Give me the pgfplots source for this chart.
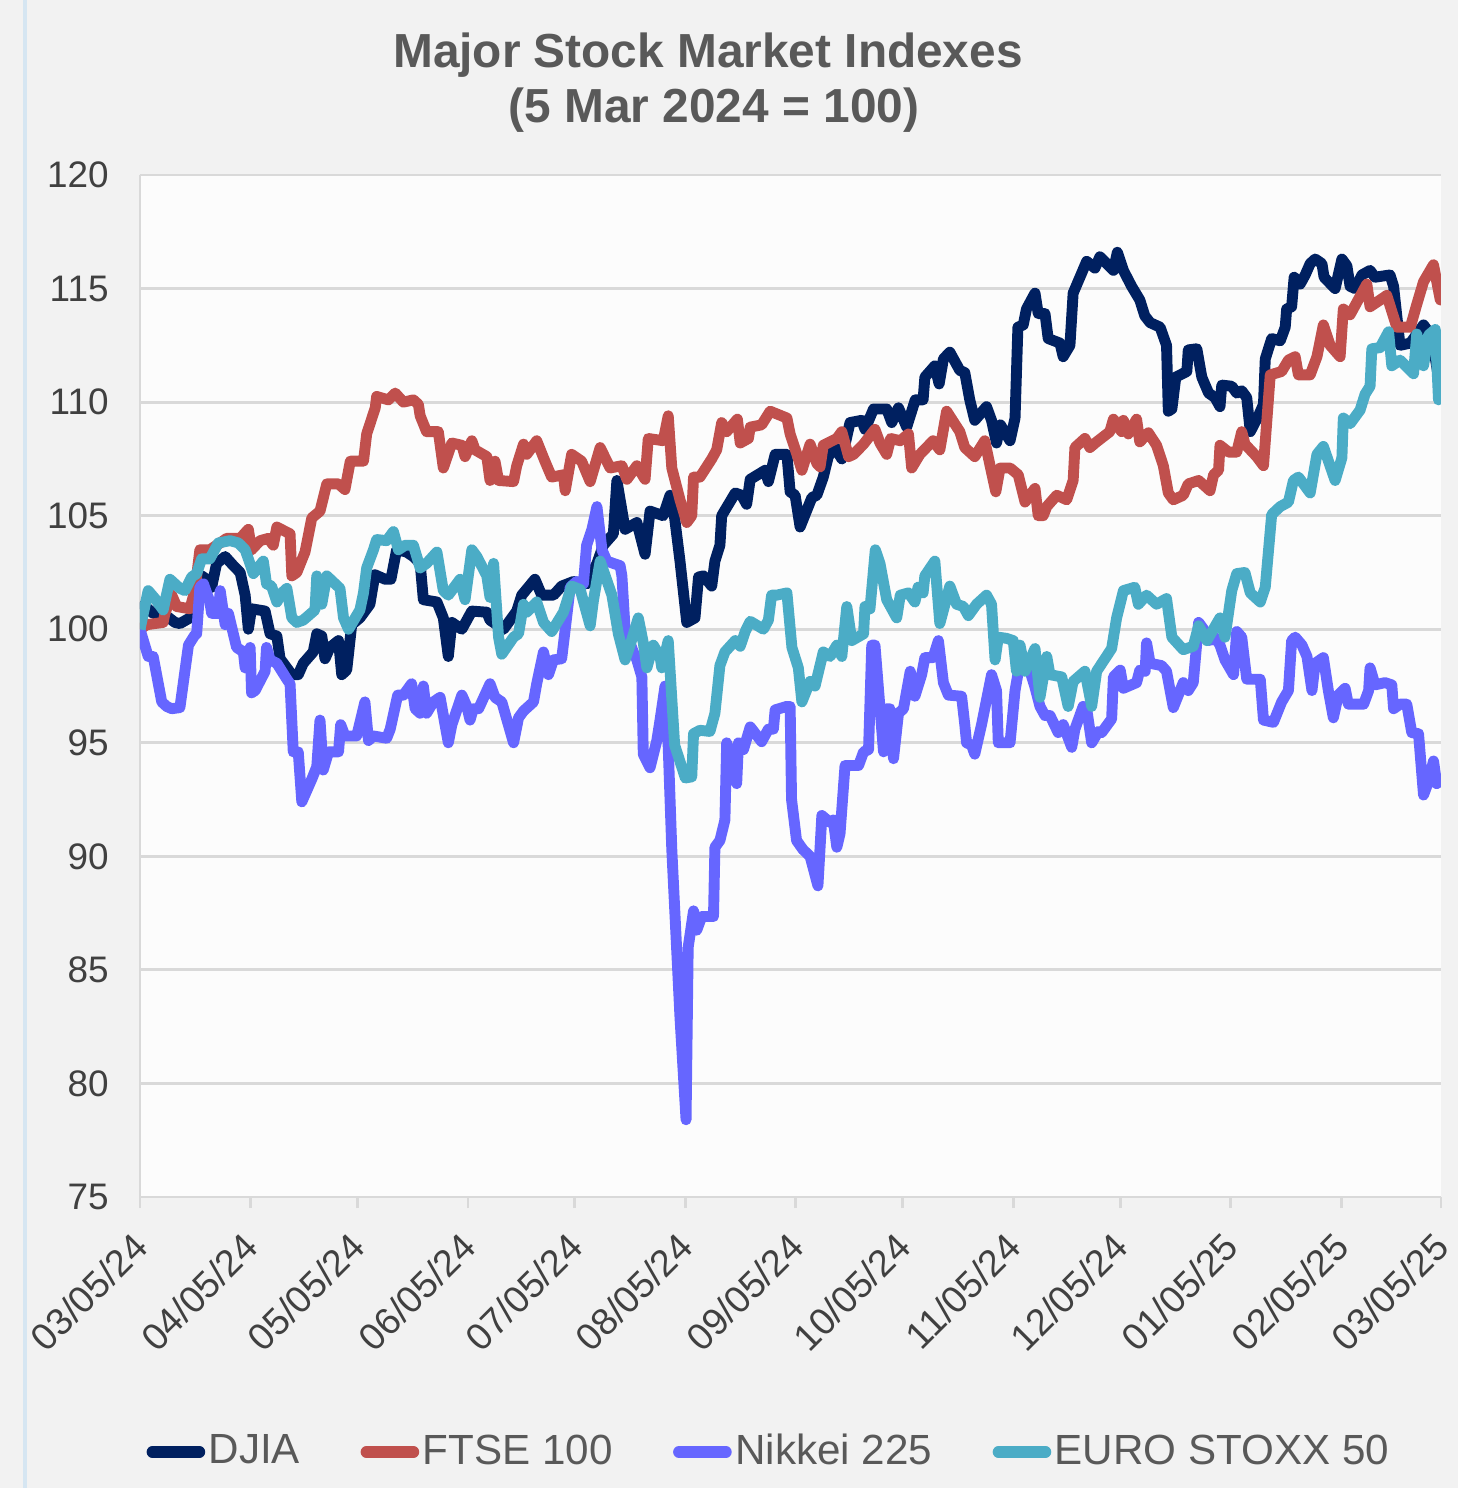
\documentclass[border=0pt]{standalone}
\usepackage{pgfplots}
\pgfplotsset{compat=1.18}
\usepackage{fontspec}
\setmainfont{Liberation Sans}
\definecolor{djia}{HTML}{002060}
\definecolor{ftse}{HTML}{C0504D}
\definecolor{nikkei}{HTML}{6666FF}
\definecolor{euro}{HTML}{4BACC6}
\definecolor{bgc}{HTML}{F2F2F2}
\definecolor{plotbg}{HTML}{FCFCFC}
\definecolor{gridc}{HTML}{D9D9D9}
\definecolor{txt}{HTML}{595959}
\definecolor{ticktxt}{HTML}{404040}
\definecolor{edge}{HTML}{D6E6F2}
\begin{document}
\begin{tikzpicture}
\fill[bgc] (-1.40,-2.91) rectangle (13.18,11.97);
\useasboundingbox (-1.40,-2.91) rectangle (13.18,11.97);
\draw[edge, line width=1.2pt] (-1.15,-2.91) -- (-1.15,11.97);
\node[anchor=base, font=\fontsize{13.6}{16}\selectfont\bfseries, text=txt] at (5.68,11.30) {Major Stock Market Indexes};
\node[anchor=base, font=\fontsize{13.6}{16}\selectfont\bfseries, text=txt] at (5.74,10.75) {(5 Mar 2024 = 100)};
\begin{axis}[
  at={(0,0)}, anchor=south west,
  scale only axis, width=13.01cm, height=10.22cm,
  xmin=0, xmax=365, ymin=75, ymax=120,
  axis background/.style={fill=plotbg},
  axis x line*=bottom, axis y line*=left,
  axis line style={gridc, line width=0.8pt},
  ytick={75,80,...,120},
  ymajorgrids, grid style={gridc, line width=0.8pt},
  xtick={0,31,61,92,122,153,184,214,245,275,306,337,365},
  xticklabels={03/05/24,04/05/24,05/05/24,06/05/24,07/05/24,08/05/24,09/05/24,10/05/24,11/05/24,12/05/24,01/05/25,02/05/25,03/05/25},
  x tick label style={rotate=45, anchor=north east, font=\fontsize{10.7}{12}\selectfont, text=ticktxt, yshift=0.03cm, xshift=-0.10cm},
  y tick label style={font=\fontsize{10.5}{12}\selectfont, text=ticktxt, xshift=-0.08cm},
  /pgf/number format/assume math mode=true,
  tick align=outside,
  major tick length=0.11cm,
  xtick style={gridc, line width=0.8pt},
  ytick style={draw=none},
  legend columns=4,
  legend style={at={(0.484,-0.2495)}, anchor=center, draw=none, fill=none,
    font=\fontsize{12}{14}\selectfont, text=txt,
    nodes={inner sep=1pt},
    /tikz/every even column/.append style={column sep=0.57cm}},
  legend image code/.code={\draw[#1, line width=3.3pt, line cap=round] (0.05cm,0cm) -- (0.52cm,0cm);},
]
\addplot[djia, line width=3.1pt, line join=round, no markers] table {
0 101.2
3.7 100.7
6.5 100.7
9.8 100.3
11.2 100.25
14 100.5
15.9 100.8
17.3 102.35
18.7 102.2
20.1 101.85
21.5 102.9
23.9 103.2
26.2 102.8
28.1 102.5
29.5 101.5
30.4 100.0
31.3 100.9
35.1 100.8
36.5 99.8
38.4 99.7
39.3 98.7
42.6 98.0
44.4 98.0
45.8 98.5
48.6 99.0
49.6 99.8
51.0 99.7
51.9 98.7
53.3 99.2
55.7 99.5
56.6 98.0
58.0 98.2
59.4 100.2
61.7 100.5
64.5 101.1
65.9 102.4
68.8 102.2
70.4 102.2
72.0 103.5
74.8 103.4
76.7 103.2
78.6 102.9
79.5 101.3
83.3 101.2
85.1 100.5
86.5 98.8
87.5 100.3
90.3 100.0
93.1 100.8
97.3 100.75
98.2 100.4
102.0 100.0
105.7 100.8
107.1 101.5
110.8 102.2
112.7 101.5
116.0 101.5
118.3 101.9
121.6 102.1
125.3 102.0
128.2 102.9
130.0 103.7
132.8 104.2
133.8 106.55
136.1 104.4
139.4 104.7
141.7 103.3
143.1 105.2
146.8 105.0
148.7 105.9
149.6 105.4
151.5 103.0
153.4 100.3
155.7 100.5
156.7 102.3
158.1 102.35
160.4 101.9
161.3 103.0
162.7 103.7
163.2 105.0
167.0 106.0
168.8 105.9
170.2 105.5
171.2 106.6
175.4 107.0
176.3 106.5
178.2 107.7
181.5 107.7
182.4 106.05
183.8 105.9
185.2 104.5
188.5 105.8
189.9 105.9
191.7 106.7
193.1 107.6
195.0 108.0
196.9 107.5
199.2 109.1
202.5 109.2
203.4 108.8
205.8 109.7
209.5 109.7
210.9 109.1
212.8 109.75
215.1 108.9
217.5 110.1
219.7 110.1
220.2 111.1
223.0 111.6
224.2 110.8
225.4 111.9
227.2 112.2
230.0 111.4
231.4 111.3
232.8 110.1
234.2 109.2
237.5 109.8
238.9 109.2
240.3 108.2
241.4 109.0
244.1 108.3
245.5 109.3
246.3 113.3
247.8 113.4
248.7 114.1
251.1 114.8
252.0 113.9
253.9 113.9
254.8 112.8
258.1 112.6
259.0 112.0
260.9 112.5
261.8 114.8
265.6 116.2
267.9 115.9
269.3 116.4
273.1 115.8
274.2 116.6
275.9 115.8
278.2 115.1
280.5 114.5
281.9 113.8
283.4 113.5
286.2 113.3
288.0 112.5
288.5 109.6
289.5 109.7
290.6 111.1
293.7 111.35
294.1 112.3
296.5 112.35
297.9 111.1
299.8 110.4
301.6 110.2
303.0 109.8
303.5 110.75
306.3 110.7
307.7 110.4
309.1 110.5
310.5 110.2
311.5 108.7
313.8 109.4
315.2 109.9
315.7 111.9
317.5 112.8
319.9 112.7
321.3 113.3
321.7 114.1
323.1 114.2
323.8 115.5
325.5 115.2
326.9 115.6
328.3 116.1
329.7 116.3
331.6 116.1
332.2 115.5
335.3 115.0
337.2 116.3
338.6 116.0
339.5 115.1
340.9 115.0
342.8 115.6
345.1 115.8
346.5 115.5
350.7 115.6
351.7 115.1
353.5 112.5
356.4 112.6
360.1 113.4
361.5 113.1
362.9 112.4
364.6 110.8
365 110.5
};
\addlegendentry{DJIA}
\addplot[ftse, line width=3.1pt, line join=round, no markers] table {
0 100.0
1.9 100.2
6.5 100.3
7.0 100.7
8.9 101.5
10.3 101.0
14.0 100.9
15.4 101.7
16.8 103.5
19.6 103.5
22.5 103.8
24.3 104.0
28.1 104.0
30.4 104.4
31.3 103.5
33.7 103.9
36.0 104.0
37.4 103.7
38.4 104.5
42.1 104.2
42.6 102.35
44.0 102.5
46.3 103.4
48.2 104.9
50.5 105.2
52.4 106.4
55.7 106.4
57.5 106.15
59.0 107.4
62.7 107.4
63.6 108.6
66.0 109.75
66.4 110.25
69.7 110.1
71.6 110.4
73.9 110.0
76.7 110.1
78.1 109.9
78.6 109.4
80.4 108.7
83.7 108.7
85.1 107.1
87.5 108.2
90.3 108.1
91.2 107.6
93.1 108.3
94.0 107.9
97.3 107.6
98.2 106.55
99.6 107.4
100.6 106.55
104.8 106.5
105.7 107.2
107.6 108.15
108.5 107.7
111.3 108.3
113.6 107.4
115.5 106.7
118.8 106.8
119.3 106.1
121.1 107.7
123.9 107.4
126.3 106.5
129.1 108.0
131.9 107.1
135.2 107.2
136.6 106.6
139.4 107.2
141.7 106.6
142.6 108.4
146.8 108.3
148.2 109.4
149.2 107.1
151.5 105.7
153.4 104.7
154.8 105.0
155.3 106.7
157.1 106.7
160.4 107.5
161.8 107.9
163.2 109.1
164.6 108.7
167.6 109.25
168.4 108.2
170.7 108.4
171.2 108.9
174.4 109.0
176.8 109.6
181.5 109.3
182.4 108.6
184.3 107.7
185.7 107.0
188.0 108.15
189.9 107.3
190.8 107.15
191.7 108.1
195.5 108.4
196.9 108.7
198.8 107.6
200.2 107.7
203.0 108.15
206.2 108.8
207.6 108.2
209.5 107.7
210.6 108.4
213.3 108.3
215.6 108.6
216.5 107.1
218.8 107.7
222.5 108.3
224.4 107.9
226.3 109.6
230.0 108.7
231.4 108.0
234.2 107.6
237.0 108.3
238.5 107.2
240.1 106.05
241.3 107.1
244.1 107.1
246.4 106.8
248.3 105.6
251.1 106.2
252.0 105.0
253.4 105.0
254.4 105.4
257.2 105.9
260.0 105.7
261.8 106.55
262.3 108.0
265.1 108.4
266.5 108.0
268.4 108.25
272.1 108.7
273.1 109.25
275.4 108.7
275.9 109.2
277.3 108.6
279.6 109.25
280.5 108.25
282.9 108.65
285.2 108.1
287.1 107.2
288.5 106.0
289.9 105.7
292.7 105.9
294.1 106.4
297.0 106.55
298.8 106.3
300.2 106.1
301.2 106.8
302.6 107.0
303.0 108.1
305.4 107.8
307.7 107.8
309.1 108.7
310.0 108.15
313.3 107.6
315.2 107.2
317.1 111.2
320.3 111.35
322.2 111.85
324.1 112.0
325.0 111.2
328.3 111.2
330.2 112.0
332.0 113.4
333.9 112.5
336.7 112.0
337.6 114.1
339.5 113.85
344.2 115.2
345.1 114.2
347.0 114.4
349.8 114.7
352.6 113.3
356.4 113.3
358.2 114.3
360.1 115.3
362.9 116.05
364.8 114.5
365 114.5
};
\addlegendentry{FTSE 100}
\addplot[nikkei, line width=3.1pt, line join=round, no markers] table {
0 100.0
2.3 98.8
3.7 98.8
6.1 96.8
7.5 96.6
8.9 96.5
11.2 96.55
13.6 99.3
15.4 99.75
15.9 99.8
16.8 101.85
17.8 102.0
19.6 101.2
20.1 100.7
22.0 100.7
22.5 101.7
23.9 100.2
24.8 100.7
27.1 99.2
29.0 99.0
29.5 98.3
30.9 99.2
31.3 97.2
32.3 97.3
35.1 98.15
35.5 99.2
36.5 98.65
38.4 98.5
41.2 97.8
42.1 97.6
43.0 94.6
44.4 94.6
45.4 92.4
48.2 93.4
49.6 93.95
50.5 96.0
51.4 93.8
52.9 94.6
55.7 94.6
56.3 95.8
57.5 95.3
60.8 95.3
63.1 96.8
64.1 95.1
65.5 95.3
69.2 95.2
70.2 95.6
72.3 97.1
73.9 97.1
76.2 97.6
77.2 96.5
78.6 96.3
79.5 97.5
80.4 96.3
82.3 96.8
84.2 97.0
86.5 95.0
87.5 95.8
90.3 97.1
91.7 96.6
92.6 96.0
93.5 96.5
95.0 96.5
98.2 97.6
99.6 97.0
101.5 96.8
104.8 95.0
106.2 96.1
107.6 96.4
110.4 96.8
111.3 97.6
113.2 99.0
114.6 98.0
116.0 98.65
118.3 98.7
119.3 100.0
120.2 101.2
120.7 101.85
122.5 102.1
124.4 102.0
125.3 103.7
126.8 104.4
128.2 105.4
129.6 103.5
131.0 103.0
132.8 102.9
134.7 102.8
135.2 102.35
136.1 100.0
138.4 99.0
139.4 98.65
140.8 97.9
141.2 94.5
143.1 93.9
145.0 95.1
145.9 96.0
147.3 97.5
148.2 94.8
149.2 90.3
151.5 82.9
153.2 78.4
153.8 86.0
155.3 87.6
156.2 86.75
157.6 87.35
160.9 87.35
161.3 90.4
162.7 90.7
164.1 91.6
164.6 95.0
167.4 93.2
167.9 95.0
169.3 94.7
171.2 95.7
174.4 95.05
176.3 95.6
177.7 95.6
178.2 96.45
181.4 96.6
182.4 96.6
182.8 92.5
184.2 90.7
186.0 90.3
188.0 90.0
190.2 88.7
191.3 91.8
193.5 91.5
194.5 91.6
195.5 90.4
196.4 91.0
197.8 94.0
198.8 94.0
201.6 94.0
203.0 94.6
204.4 94.7
205.3 99.3
206.2 99.3
208.6 94.6
209.5 96.5
210.4 96.5
211.4 94.3
212.8 96.3
214.2 96.5
216.1 98.15
217.4 97.05
219.3 98.0
220.2 98.75
222.5 98.75
224.0 99.5
225.4 97.65
226.8 97.1
230.5 97.05
231.4 95.8
231.9 95.0
233.3 94.9
234.2 94.5
236.1 95.8
238.9 98.0
240.3 97.3
240.8 95.0
244.1 95.0
245.5 97.3
246.5 98.2
249.0 98.5
251.0 97.5
252.5 96.6
253.9 96.2
255.3 96.2
257.6 95.45
259.0 95.8
261.4 94.8
262.3 95.6
264.6 96.6
265.6 96.5
267.0 95.0
268.9 95.5
269.8 95.45
272.6 96.05
273.1 97.9
275.0 98.2
275.9 97.4
279.6 97.65
280.5 98.2
282.0 98.15
282.4 99.4
283.4 98.5
286.6 98.4
288.0 98.15
289.9 96.55
292.7 97.65
294.1 97.3
295.5 97.65
297.0 100.3
298.4 100.0
300.2 99.5
301.6 99.65
303.0 99.3
304.4 98.65
306.8 98.0
307.7 99.9
309.1 99.65
310.5 97.8
314.3 97.8
315.2 96.0
318.0 95.9
320.3 96.8
322.2 97.3
323.1 99.5
324.1 99.65
326.0 99.3
327.4 98.8
328.8 97.3
329.7 98.5
332.0 98.75
333.4 97.3
334.8 96.1
336.2 97.1
338.1 97.4
339.0 96.7
343.3 96.7
344.7 97.3
345.1 98.3
346.5 97.55
349.3 97.65
351.2 97.55
351.7 96.5
353.5 96.7
355.4 96.7
356.8 95.45
358.7 95.4
360.1 92.7
361.5 93.3
362.9 94.2
363.8 93.2
365 93.4
};
\addlegendentry{Nikkei 225}
\addplot[euro, line width=3.1pt, line join=round, no markers] table {
0 100.0
2.3 101.7
4.2 101.35
6.5 100.85
8.4 102.2
11.2 101.8
12.6 101.7
14.5 102.3
15.9 102.45
17.3 103.1
19.6 103.1
22.0 103.8
25.3 103.9
27.6 103.8
29.5 103.5
30.4 103.1
31.8 102.45
34.6 103.0
35.5 102.0
36.9 101.9
38.4 101.2
39.8 101.6
41.2 101.8
42.6 100.5
44.0 100.3
45.8 100.4
49.1 100.85
49.6 102.35
51.0 101.1
52.4 102.35
56.1 101.8
57.1 100.5
58.5 100.0
61.7 100.85
62.7 101.6
63.6 102.7
65.5 103.5
66.4 103.95
69.2 103.9
71.1 104.3
72.5 103.5
74.4 103.7
76.7 103.7
78.6 102.7
80.4 102.9
83.3 103.4
85.1 101.7
86.5 101.5
89.8 102.2
91.2 101.3
93.1 103.5
94.5 103.2
97.3 102.35
98.2 101.4
99.2 102.9
100.6 99.65
101.5 98.9
104.8 99.65
106.2 99.8
107.6 101.1
108.5 100.75
111.3 101.2
113.2 100.3
115.5 99.9
118.8 100.75
121.1 101.9
123.5 101.75
126.3 100.15
127.2 101.25
129.1 103.0
132.4 101.5
134.2 99.8
136.1 98.65
137.5 99.3
139.8 100.5
141.2 99.4
142.2 98.3
144.0 99.3
145.9 98.8
146.4 98.3
148.2 99.5
150.0 94.9
153.0 93.45
154.8 93.5
155.3 95.4
157.1 95.55
159.9 95.5
161.3 96.3
162.7 98.4
164.1 99.0
167.0 99.5
168.4 99.25
169.8 99.9
171.2 100.35
174.9 100.0
176.3 100.4
177.2 101.5
178.6 101.5
181.5 101.6
182.9 99.2
184.7 98.3
185.7 96.8
188.0 97.7
189.4 97.5
191.7 99.0
193.6 98.8
195.5 99.3
196.9 98.8
198.3 101.0
199.7 99.5
203.0 99.8
203.4 101.0
204.8 100.9
206.3 103.5
207.6 102.9
209.5 101.3
212.3 100.5
213.3 101.5
215.6 101.6
217.4 101.2
218.3 101.85
219.7 101.6
220.2 102.35
223.0 103.0
224.4 100.25
227.2 101.9
229.1 101.1
231.0 101.0
232.4 100.6
234.7 101.1
237.5 101.5
238.9 101.1
239.9 98.65
240.8 99.65
243.1 99.6
245.0 99.5
245.9 98.15
246.9 99.3
248.3 98.15
251.1 99.15
252.5 97.0
254.4 98.8
255.3 98.0
258.6 97.9
260.4 96.6
261.8 97.7
265.1 98.15
267.0 96.6
268.4 98.15
272.6 99.15
274.0 100.5
275.9 101.7
279.1 101.85
280.1 101.1
282.4 101.5
285.2 101.1
288.0 101.35
289.5 99.65
292.7 99.1
295.5 99.25
297.0 100.15
299.3 99.5
303.0 100.5
304.4 99.65
306.3 101.7
307.7 102.45
310.0 102.5
311.5 101.6
314.3 101.2
315.7 101.85
317.5 105.05
319.9 105.4
322.2 105.6
323.6 106.55
325.0 106.7
328.3 106.0
330.2 107.7
332.0 108.05
335.3 106.55
337.2 107.55
337.6 109.3
339.5 109.05
342.3 109.65
343.7 110.35
345.1 110.7
345.6 112.35
347.9 112.4
350.3 113.1
351.2 111.6
353.5 111.85
357.3 111.25
358.2 113.0
360.1 111.6
361.5 112.95
363.4 113.2
364.3 110.1
365 112.2
};
\addlegendentry{EURO STOXX 50}
\end{axis}
\end{tikzpicture}
\end{document}
